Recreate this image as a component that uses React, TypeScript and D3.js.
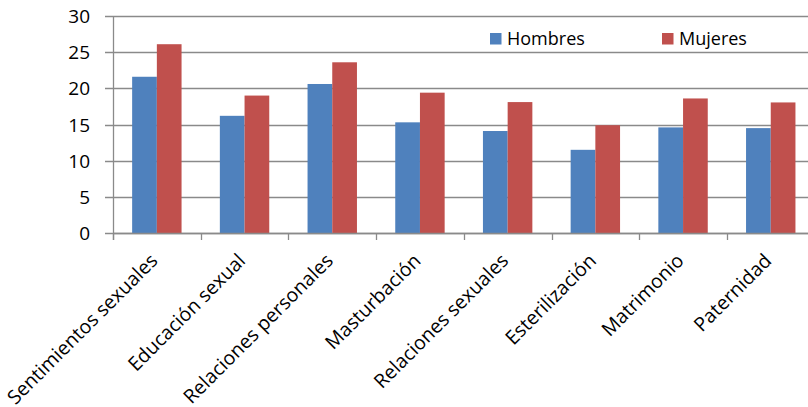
import React from "react";
import * as d3 from "d3";

const categories = [
  "Sentimientos sexuales",
  "Educación sexual",
  "Relaciones personales",
  "Masturbación",
  "Relaciones sexuales",
  "Esterilización",
  "Matrimonio",
  "Paternidad",
];
const hombres = [21.6, 16.2, 20.6, 15.3, 14.1, 11.5, 14.6, 14.5];
const mujeres = [26.1, 19.0, 23.6, 19.4, 18.1, 14.9, 18.6, 18.05];
const seriesNames = ["Hombres", "Mujeres"];
const seriesColors = ["#4F81BD", "#C0504D"];
const yTicks = [0, 5, 10, 15, 20, 25, 30];

const W = 808;
const H = 407;
const FONT = "'Open Sans', sans-serif";

export default function App() {
  const left = 113;
  const right = 814.6;
  const top = 16;
  const bottom = 233;

  const x0 = d3.scaleBand<string>().domain(categories).range([left, right]).padding(0);
  const x1 = d3
    .scaleBand<string>()
    .domain(seriesNames)
    .range([0, x0.bandwidth()])
    .paddingInner(0)
    .paddingOuter(0.775);
  const y = d3.scaleLinear().domain([0, 30]).range([bottom, top]);

  const values = [hombres, mujeres];
  const grid = "#8a8a8a";

  return (
    <svg
      width={W}
      height={H}
      style={{ position: "absolute", left: 0, top: 0, background: "#fff" }}
      fontFamily={FONT}
    >
      {/* horizontal gridlines */}
      {yTicks.map((t) => (
        <line
          key={"g" + t}
          x1={left - 8}
          x2={W}
          y1={Math.round(y(t)) + 0.5}
          y2={Math.round(y(t)) + 0.5}
          stroke={grid}
          strokeWidth={1.3}
        />
      ))}
      {/* y tick labels */}
      {yTicks.map((t) => (
        <text
          key={"t" + t}
          x={90}
          y={y(t)}
          textAnchor="end"
          dominantBaseline="central"
          fontSize={19}
          fill="#000"
        >
          {t}
        </text>
      ))}
      {/* bars */}
      {categories.map((c, i) => (
        <g key={c} transform={`translate(${x0(c)},0)`}>
          {seriesNames.map((s, k) => (
            <rect
              key={s}
              x={x1(s)}
              y={y(values[k][i])}
              width={x1.bandwidth()}
              height={y(0) - y(values[k][i])}
              fill={seriesColors[k]}
            />
          ))}
        </g>
      ))}
      {/* y axis line */}
      <line x1={left + 0.5} x2={left + 0.5} y1={top} y2={bottom + 7} stroke={grid} strokeWidth={1.3} />
      {/* x axis line */}
      <line x1={left} x2={W} y1={Math.round(bottom) + 0.5} y2={Math.round(bottom) + 0.5} stroke={grid} strokeWidth={1.3} />
      {/* category ticks */}
      {categories.map((c) => (
        <line
          key={"xt" + c}
          x1={Math.round(x0(c)!) + 0.5}
          x2={Math.round(x0(c)!) + 0.5}
          y1={bottom}
          y2={bottom + 7}
          stroke={grid}
          strokeWidth={1.3}
        />
      ))}
      {/* category labels, rotated */}
      {categories.map((c) => {
        const cx = x0(c)! + x0.bandwidth() / 2;
        return (
          <text
            key={"l" + c}
            transform={`translate(${cx + 2},${bottom + 29}) rotate(-45)`}
            textAnchor="end"
            fontSize={19.5}
            fill="#000"
          >
            {c}
          </text>
        );
      })}
      {/* legend */}
      {seriesNames.map((s, k) => {
        const lx = [490, 662][k];
        return (
          <g key={"lg" + s}>
            <rect x={lx} y={33} width={11.5} height={11.5} fill={seriesColors[k]} />
            <text x={lx + 17} y={45} fontSize={18} fill="#000">
              {s}
            </text>
          </g>
        );
      })}
    </svg>
  );
}
